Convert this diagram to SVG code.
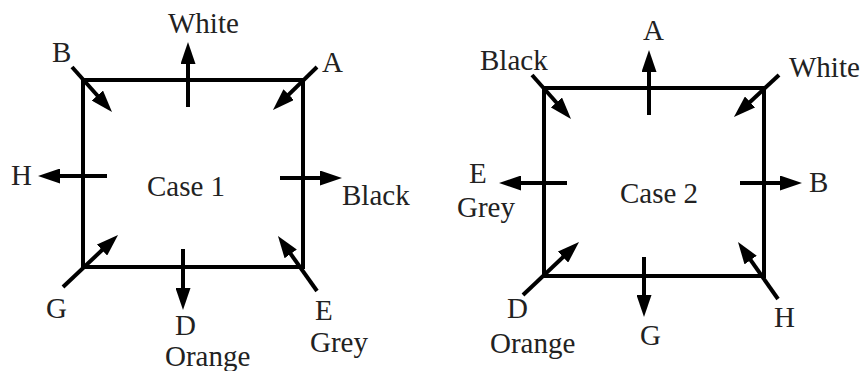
<svg xmlns="http://www.w3.org/2000/svg" width="864" height="371" viewBox="0 0 864 371">
<style>
.box{fill:none;stroke:#000;stroke-width:4}
.arr{stroke:#000;stroke-width:4;fill:none;marker-end:url(#ah)}
.t{font-family:"Liberation Serif","Times New Roman",serif;font-size:29px;fill:#222}
</style>
<defs>
<marker id="ah" markerUnits="userSpaceOnUse" markerWidth="22" markerHeight="15" refX="14" refY="7.5" orient="auto">
<path d="M0,0 L22,7.5 L0,15 Z" fill="#000"/>
</marker>
</defs>
<rect width="864" height="371" fill="#fff"/>
<g id="case1">
<rect class="box" x="83" y="80" width="220" height="187"/>
<text class="t" x="147" y="196">Case 1</text>
</g>
<g id="case2">
<rect class="box" x="544" y="88" width="220" height="188"/>
<text class="t" x="620" y="203">Case 2</text>
</g>
<g id="labels1">
<text class="t" x="168" y="33">White</text>
<text class="t" x="52" y="62">B</text>
<text class="t" x="322" y="72">A</text>
<text class="t" x="11" y="185">H</text>
<text class="t" x="342" y="205">Black</text>
<text class="t" x="46" y="318">G</text>
<text class="t" x="175" y="335">D</text>
<text class="t" x="165" y="366">Orange</text>
<text class="t" x="315" y="320">E</text>
<text class="t" x="310" y="352">Grey</text>
</g>
<g id="labels2">
<text class="t" x="643" y="40">A</text>
<text class="t" x="480" y="70">Black</text>
<text class="t" x="789" y="77">White</text>
<text class="t" x="469" y="183">E</text>
<text class="t" x="457" y="217">Grey</text>
<text class="t" x="809" y="192">B</text>
<text class="t" x="507" y="318">D</text>
<text class="t" x="490" y="353">Orange</text>
<text class="t" x="640" y="345">G</text>
<text class="t" x="774" y="327">H</text>
</g>
<g id="connectors">
<line class="arr" x1="72" y1="67" x2="106.7" y2="106"/>
<line class="arr" x1="317" y1="67" x2="278.7" y2="104.4"/>
<line class="arr" x1="188" y1="107" x2="188" y2="50"/>
<line class="arr" x1="107" y1="176" x2="46" y2="176"/>
<line class="arr" x1="280" y1="178" x2="334" y2="178"/>
<line class="arr" x1="63" y1="287" x2="112.2" y2="240.5"/>
<line class="arr" x1="183" y1="249" x2="183" y2="302"/>
<line class="arr" x1="317" y1="291" x2="282.6" y2="242.5"/>
<line class="arr" x1="532" y1="75" x2="565.7" y2="113"/>
<line class="arr" x1="779" y1="75" x2="739.8" y2="111.5"/>
<line class="arr" x1="649" y1="115" x2="649" y2="58"/>
<line class="arr" x1="567" y1="183" x2="507" y2="183"/>
<line class="arr" x1="740" y1="183" x2="794" y2="183"/>
<line class="arr" x1="523" y1="295" x2="573.2" y2="247.5"/>
<line class="arr" x1="644" y1="257" x2="644" y2="309"/>
<line class="arr" x1="778" y1="299" x2="742.6" y2="248.6"/>
</g>
</svg>
